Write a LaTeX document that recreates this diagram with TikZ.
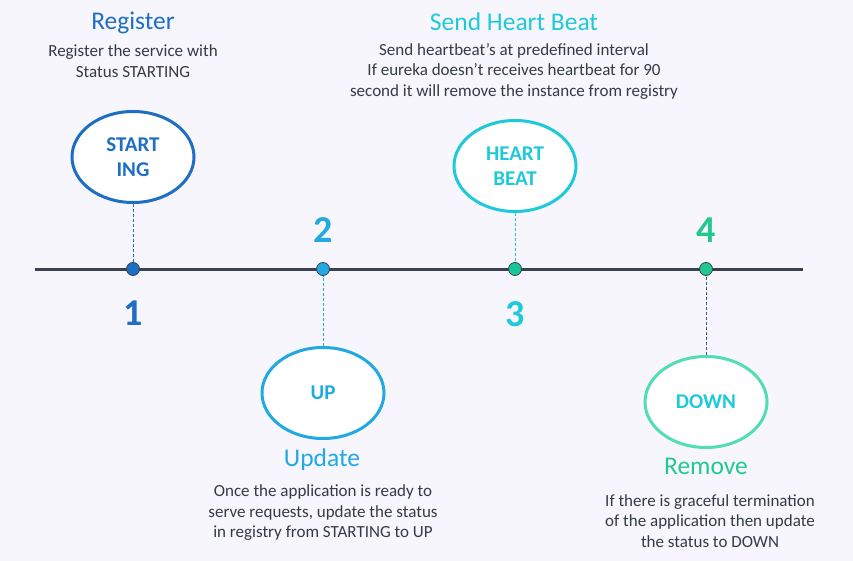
\documentclass[tikz,border=0pt]{standalone}
\usepackage{fontspec}
\setmainfont{Carlito}
\usepackage{tikz}
\usetikzlibrary{positioning,shapes.geometric}
\definecolor{pagebg}{HTML}{F6F6FC}
\definecolor{axisdark}{HTML}{3A4150}
\definecolor{bodygray}{HTML}{343B47}
\definecolor{regblue}{HTML}{1E6EC3}
\definecolor{upblue}{HTML}{22A9E2}
\definecolor{beatcyan}{HTML}{1ECAD9}
\definecolor{beatgreen}{HTML}{17C79A}
\definecolor{downmint}{HTML}{52DDB5}
\definecolor{removegreen}{HTML}{22C98F}
\definecolor{guidenavy}{HTML}{2D5C8C}
\tikzset{
  statenode/.style={
    ellipse, draw=#1, line width=3pt, fill=white,
    minimum width=122pt, minimum height=91pt, inner sep=0pt,
    align=center, font=\fontsize{21}{25}\selectfont\bfseries
  },
  dotnode/.style={
    circle, fill=#1, draw=axisdark, line width=0.8pt,
    minimum size=13pt, inner sep=0pt
  },
  numnode/.style={
    inner sep=0pt, text=#1, font=\fontsize{38}{40}\selectfont\bfseries
  },
  titlenode/.style={
    inner sep=0pt, text=#1, font=\fontsize{25.5}{28}\selectfont
  },
  descnode/.style={
    inner sep=0pt, align=center, text=bodygray,
    font=\fontsize{17}{20.5}\selectfont
  },
  guideline/.style={draw=#1, line width=0.9pt, dash pattern=on 3pt off 2pt},
  axisline/.style={draw=axisdark, line width=3pt},
}
\begin{document}
\begin{tikzpicture}[x=1pt, y=-1pt]
  \useasboundingbox[fill=pagebg] (0,0) rectangle (853,561);
  \coordinate (axisL) at (35,269);
  \coordinate (axisR) at (803,269);
  \draw[axisline] (axisL) -- (axisR);

  % timeline points
  \node[dotnode=regblue] (d1) at (133,269) {};
  \node[dotnode=upblue] (d2) at (323,269) {};
  \node[dotnode=beatgreen] (d3) at (515,269) {};
  \node[dotnode=removegreen] (d4) at (706,269) {};
  \node[numnode=regblue, below=25pt of d1] (n1) {1};
  \node[numnode=upblue, above=19pt of d2] (n2) {2};
  \node[numnode=beatcyan, below=25pt of d3] (n3) {3};
  \node[numnode=removegreen, above=19pt of d4] (n4) {4};

  % states
  \node[statenode=regblue, text=regblue] (s1) at (133,157) {START\\ING};
  \node[statenode=upblue, text=upblue] (s2) at (323,393) {UP};
  \node[statenode=beatcyan, text=beatcyan] (s3) at (515,166) {HEART\\BEAT};
  \node[statenode=downmint, text=beatcyan] (s4) at (706,402) {DOWN};
  \foreach \a/\b/\c in {s1/d1/regblue,s2/d2/upblue,s3/d3/beatcyan,s4/d4/guidenavy}
    \draw[guideline=\c] (\a) -- (\b);

  % titles and descriptions
  \node[titlenode=regblue] (t1) at (133,23) {Register};
  \node[descnode] (i1) at (133,61) {Register the service with\\Status STARTING};
  \node[titlenode=beatcyan] (t3) at (514,22) {Send Heart Beat};
  \node[descnode] (i3) at (514,71) {Send heartbeat’s at predefined interval\\If eureka doesn’t receives heartbeat for 90\\second it will remove the instance from registry};
  \node[titlenode=upblue] (t2) at (322,460) {Update};
  \node[descnode] (i2) at (323,513) {Once the application is ready to\\serve requests, update the status\\in registry from STARTING to UP};
  \node[titlenode=removegreen] (t4) at (706,466) {Remove};
  \node[descnode] (i4) at (710,521) {If there is graceful termination\\of the application then update\\the status to DOWN};
\end{tikzpicture}
\end{document}
